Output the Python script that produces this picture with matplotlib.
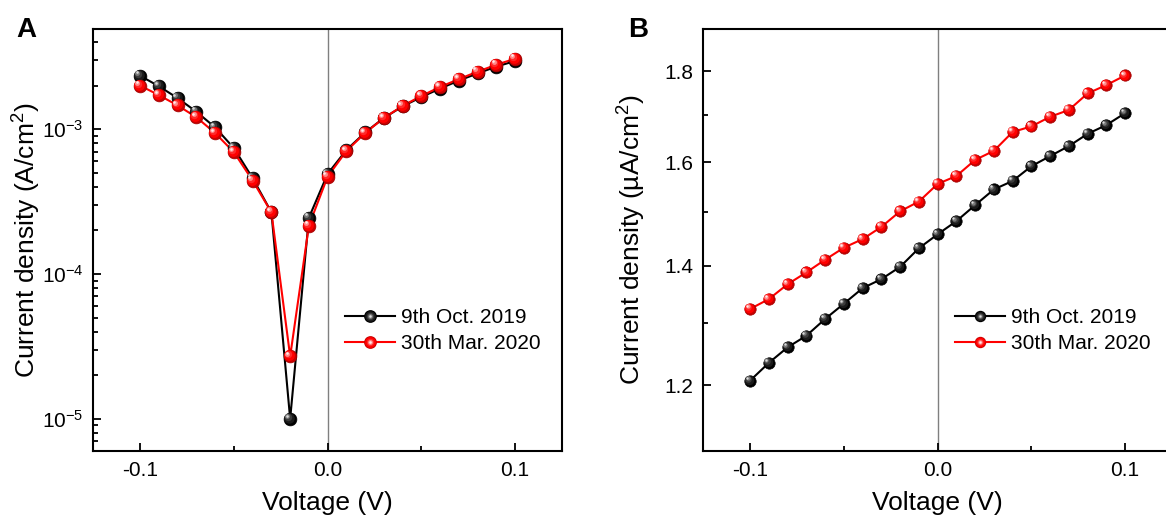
import numpy as np
import matplotlib
matplotlib.use('Agg')
import matplotlib.pyplot as plt
from matplotlib import transforms
from matplotlib.lines import Line2D
from matplotlib.legend_handler import HandlerTuple
from matplotlib.ticker import FixedLocator, NullFormatter, FormatStrFormatter, LogLocator

plt.rcParams['font.family'] = ['Liberation Sans', 'DejaVu Sans']
plt.rcParams['mathtext.fontset'] = 'custom'
plt.rcParams['mathtext.rm'] = 'Liberation Sans'
plt.rcParams['mathtext.it'] = 'Liberation Sans:italic'
plt.rcParams['mathtext.bf'] = 'Liberation Sans:bold'
plt.rcParams['axes.unicode_minus'] = False

# Du lieu doc tu hinh
voltage = [-0.1, -0.09, -0.08, -0.07, -0.06, -0.05, -0.04, -0.03, -0.02, -0.01, 0.0,
           0.01, 0.02, 0.03, 0.04, 0.05, 0.06, 0.07, 0.08, 0.09, 0.1]

# Panel A (A/cm2)
jA_oct2019 = [2.34e-3, 1.98e-3, 1.64e-3, 1.32e-3, 1.03e-3, 7.4e-4, 4.59e-4, 2.67e-4, 1.0e-5, 2.45e-4, 4.92e-4,
              7.19e-4, 9.5e-4, 1.197e-3, 1.44e-3, 1.67e-3, 1.91e-3, 2.17e-3, 2.43e-3, 2.71e-3, 2.96e-3]
jA_mar2020 = [2.0e-3, 1.72e-3, 1.46e-3, 1.21e-3, 9.4e-4, 6.94e-4, 4.42e-4, 2.67e-4, 2.70e-5, 2.16e-4, 4.71e-4,
              7.08e-4, 9.43e-4, 1.197e-3, 1.45e-3, 1.70e-3, 1.96e-3, 2.22e-3, 2.50e-3, 2.79e-3, 3.07e-3]

# Panel B (uA/cm2)
jB_oct2019 = [1.207, 1.235, 1.260, 1.279, 1.307, 1.333, 1.360, 1.376, 1.398, 1.432, 1.458,
              1.483, 1.514, 1.545, 1.562, 1.592, 1.613, 1.634, 1.660, 1.679, 1.705]
jB_mar2020 = [1.324, 1.341, 1.367, 1.388, 1.411, 1.433, 1.449, 1.472, 1.502, 1.521, 1.556,
              1.572, 1.605, 1.624, 1.664, 1.676, 1.697, 1.712, 1.749, 1.768, 1.790]

labels = ['9th Oct. 2019', '30th Mar. 2020']
yticksB = [1.2, 1.4, 1.6, 1.8]
minor_yticksB = [1.3, 1.5, 1.7]

# lop mau cho hieu ung qua cau bong
balls_black = [(1.0, '#000000', 0.0), (0.82, '#1a1a1a', 0.08), (0.58, '#3c3c3c', 0.16),
               (0.38, '#7a7a7a', 0.22), (0.2, '#dcdcdc', 0.26)]
balls_red = [(1.0, '#c80000', 0.0), (0.85, '#ff0000', 0.08), (0.58, '#ff2a2a', 0.16),
             (0.38, '#ff8c8c', 0.22), (0.2, '#ffecec', 0.26)]

fig = plt.figure(figsize=(11.66, 5.25), dpi=100)
W, H = 1166.0, 525.0


def draw_series(ax, x, y, color, layers, ms, lw=1.5):
    ax.plot(x, y, color=color, lw=lw, zorder=3)
    edge = '#000000' if color == 'k' else '#a00000'
    for frac, c, off in layers:
        tr = transforms.offset_copy(ax.transData, fig=fig, x=-off * ms, y=off * ms, units='points')
        ax.plot(x, y, ls='none', marker='o', ms=ms * frac, mfc=c,
                mec=edge if frac == 1 else c, mew=0.5 if frac == 1 else 0,
                transform=tr, zorder=4)


def legend_handle(color, layers, ms, lw=1.5):
    hs = [Line2D([], [], color=color, lw=lw)]
    for frac, c, off in layers:
        hs.append(Line2D([], [], ls='none', marker='o', ms=ms * frac, mfc=c, mec=c, mew=0))
    return tuple(hs)


def style_axes(ax):
    for sp in ax.spines.values():
        sp.set_linewidth(1.5)
    ax.tick_params(which='both', direction='in', top=False, right=False, width=1.3)
    ax.tick_params(which='major', length=6, labelsize=15, pad=7)
    ax.tick_params(which='minor', length=3.5)
    ax.set_xlim(-0.125, 0.125)
    ax.set_xticks([-0.1, 0.0, 0.1])
    ax.xaxis.set_minor_locator(FixedLocator([-0.05, 0.05]))
    ax.xaxis.set_major_formatter(FormatStrFormatter('%.1f'))
    ax.axvline(0, color='#7f7f7f', lw=1.0, zorder=1)


def add_legend(ax, ms):
    ax.legend([legend_handle('k', balls_black, ms), legend_handle('red', balls_red, ms)], labels,
              handler_map={tuple: HandlerTuple(ndivide=1, pad=0)},
              loc='upper left', bbox_to_anchor=(0.537, 0.338), frameon=False, borderpad=0,
              borderaxespad=0, handlelength=2.4, handletextpad=0.3, labelspacing=0.32, fontsize=15)


axw = (562 - 93.3) / W
axh = (451 - 29.3) / H
axb = (H - 451) / H

# Panel A
axA = fig.add_axes([93.3 / W, axb, axw, axh])
style_axes(axA)
axA.set_yscale('log')
axA.set_ylim(6.0e-6, 4.9e-3)
axA.yaxis.set_major_locator(FixedLocator([1e-5, 1e-4, 1e-3]))
axA.yaxis.set_minor_locator(LogLocator(base=10, subs=np.arange(2, 10)))
axA.yaxis.set_minor_formatter(NullFormatter())
msA = 9.2
draw_series(axA, voltage, jA_oct2019, 'k', balls_black, msA)
draw_series(axA, voltage, jA_mar2020, 'red', balls_red, msA)
axA.set_xlabel('Voltage (V)', fontsize=19)
axA.set_ylabel('Current density (A/cm$^2$)', fontsize=19)
axA.xaxis.set_label_coords(0.5, -0.095)
axA.yaxis.set_label_coords(-0.107, 0.5)
add_legend(axA, msA)

# Panel B
axB = fig.add_axes([703.3 / W, axb, axw, axh])
style_axes(axB)
axB.set_yscale('log')
axB.set_ylim(1.102, 1.90)
axB.yaxis.set_major_locator(FixedLocator(yticksB))
axB.yaxis.set_minor_locator(FixedLocator(minor_yticksB))
axB.yaxis.set_major_formatter(FormatStrFormatter('%.1f'))
axB.yaxis.set_minor_formatter(NullFormatter())
msB = 8.2
draw_series(axB, voltage, jB_oct2019, 'k', balls_black, msB)
draw_series(axB, voltage, jB_mar2020, 'red', balls_red, msB)
axB.set_xlabel('Voltage (V)', fontsize=19)
axB.set_ylabel('Current density (\u00b5A/cm$^2$)', fontsize=19)
axB.xaxis.set_label_coords(0.5, -0.095)
axB.yaxis.set_label_coords(-0.118, 0.5)
add_legend(axB, msB)

fig.text(16.7 / W, 1 - 37 / H, 'A', fontsize=20, fontweight='bold', ha='left', va='baseline')
fig.text(628.6 / W, 1 - 37 / H, 'B', fontsize=20, fontweight='bold', ha='left', va='baseline')

fig.savefig('out.png', dpi=100)
